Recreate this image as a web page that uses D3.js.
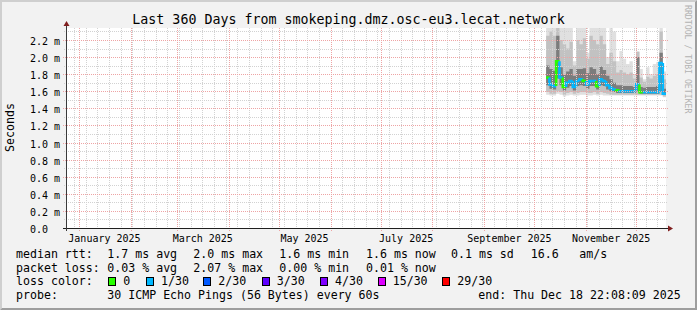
<!DOCTYPE html>
<html><head><meta charset="utf-8">
<script src="https://cdn.jsdelivr.net/npm/d3@7"></script>
<style>
html,body{margin:0;padding:0;background:#f2f2f2;}
svg{display:block;}
text{font-family:"DejaVu Sans Mono",monospace;fill:#000;}
</style>
</head><body>
<svg id="c" width="697" height="310"></svg>
<script>
// ---------------- data ----------------
const title = "Last 360 Days from smokeping.dmz.osc-eu3.lecat.network";
const yAxisTitle = "Seconds";
const watermark = "RRDTOOL / TOBI OETIKER";
const startTime = Date.UTC(2024, 11, 23, 22, 8, 9);
const endTime   = Date.UTC(2025, 11, 18, 22, 8, 9);
const yMaxMs = 2.34;
const yTickValues = [0, 0.2, 0.4, 0.6, 0.8, 1.0, 1.2, 1.4, 1.6, 1.8, 2.0, 2.2];
const yTickLabels = ["0.0", "0.2 m", "0.4 m", "0.6 m", "0.8 m", "1.0 m", "1.2 m", "1.4 m", "1.6 m", "1.8 m", "2.0 m", "2.2 m"];
const monthLabels = ["January 2025", "March 2025", "May 2025", "July 2025", "September 2025", "November 2025"];
const monthLabelStarts = ["2025-01-01", "2025-03-01", "2025-05-01", "2025-07-01", "2025-09-01", "2025-11-01"];

// samples every 2 days starting 2025-10-08 (values in ms)
const sampleStart = "2025-10-08";
const sampleStepDays = 2;
const median  = [1.76,1.68,1.66,1.95,1.76,1.65,1.70,1.72,1.65,1.72,1.74,1.72,1.68,1.72,1.72,1.66,1.74,1.72,1.67,1.64,1.62,1.61,1.60,1.60,1.60,1.60,1.60,1.68,1.59,1.59,1.59,1.59,1.59,1.59,1.93,1.57];
const lossIdx = [0,1,1,0,1,0,1,1,1,1,1,0,1,1,1,0,1,1,1,1,1,0,1,1,1,1,1,1,0,1,1,1,1,1,1,1];
const pingMin = [1.56,1.55,1.55,1.57,1.56,1.54,1.55,1.56,1.55,1.55,1.56,1.56,1.55,1.55,1.56,1.55,1.56,1.55,1.55,1.55,1.55,1.55,1.55,1.55,1.55,1.55,1.55,1.55,1.55,1.55,1.55,1.55,1.55,1.55,1.55,1.53];
const pingP10 = [1.59,1.57,1.57,1.60,1.59,1.56,1.58,1.59,1.57,1.58,1.59,1.59,1.58,1.58,1.59,1.57,1.59,1.58,1.57,1.56,1.56,1.56,1.56,1.56,1.56,1.56,1.56,1.56,1.56,1.56,1.56,1.56,1.56,1.56,1.56,1.54];
const pingP30 = [1.67,1.63,1.62,1.75,1.67,1.61,1.64,1.66,1.61,1.66,1.67,1.66,1.63,1.66,1.66,1.62,1.67,1.66,1.62,1.60,1.59,1.58,1.58,1.58,1.58,1.58,1.58,1.60,1.57,1.57,1.57,1.57,1.57,1.57,1.60,1.555];
const pingP70 = [1.90,1.86,1.84,2.25,1.88,1.80,1.83,1.86,1.78,1.86,1.86,1.87,1.81,1.88,1.86,1.80,1.89,1.85,1.78,1.74,1.70,1.67,1.67,1.66,1.66,1.66,1.65,2.00,1.65,1.64,1.65,1.65,1.65,1.66,2.05,1.63];
const pingP90 = [2.25,2.30,2.25,2.40,2.20,2.15,2.10,2.18,1.90,2.20,2.15,2.22,1.98,2.25,2.20,2.15,2.25,2.15,1.92,2.05,1.95,1.82,1.85,1.82,1.80,1.82,1.75,2.06,1.76,1.71,1.77,1.75,1.78,1.80,2.30,1.74];
const pingMax = [2.40,2.40,2.40,2.40,2.40,2.40,2.40,2.40,1.95,2.40,2.40,2.40,2.05,2.40,2.40,2.40,2.40,2.40,2.00,2.40,2.30,1.95,2.07,1.98,1.92,1.95,1.80,2.07,1.86,1.74,1.88,1.80,1.92,1.94,2.40,1.83];

const lossLabels = ["0", "1/30", "2/30", "3/30", "4/30", "15/30", "29/30"];
const lossColors = ["#26ff00", "#00b8ff", "#0059ff", "#5e00ff", "#7e00ff", "#dd00ff", "#ff0000"];

const rttHeader = "median rtt:";
const rttStats = ["1.7 ms avg", "2.0 ms max", "1.6 ms min", "1.6 ms now", "0.1 ms sd", "16.6", "am/s"];
const lossHeader = "packet loss:";
const lossStats = ["0.03 % avg", "2.07 % max", "0.00 % min", "0.01 % now"];
const colorHeader = "loss color:";
const probeHeader = "probe:";
const probeText = "30 ICMP Echo Pings (56 Bytes) every 60s";
const endText = "end: Thu Dec 18 22:08:09 2025";

// ---------------- layout ----------------
const W = 697, H = 310;
const X0 = 66, X1 = 666, Y0 = 228, Y1 = 28;
const svg = d3.select("#c");

const x = d3.scaleUtc().domain([new Date(startTime), new Date(endTime)]).range([X0, X1]);
const y = d3.scaleLinear().domain([0, yMaxMs]).range([Y0, Y1]);
const px = t => Math.floor(x(t)) + 0.5;
const py = v => Math.round(y(v)) + 0.5;

// background + shading border
svg.append("rect").attr("width", W).attr("height", H).attr("fill", "#f2f2f2");
svg.append("path").attr("d", `M0,${H} L0,0 L${W},0 L${W-2},2 L2,2 L2,${H-2} Z`).attr("fill", "#cfcfcf");
svg.append("path").attr("d", `M${W},0 L${W},${H} L0,${H} L2,${H-2} L${W-2},${H-2} L${W-2},2 Z`).attr("fill", "#9e9e9e");

// canvas
svg.append("rect").attr("x", X0).attr("y", Y1).attr("width", X1 - X0).attr("height", Y0 - Y1).attr("fill", "#ffffff");

svg.append("clipPath").attr("id", "plotclip").append("rect")
  .attr("x", X0).attr("y", Y1).attr("width", X1 - X0).attr("height", Y0 - Y1);

// samples
const s0 = d3.utcParse("%Y-%m-%d")(sampleStart);
const samples = median.map((m, i) => ({
  t: d3.utcDay.offset(s0, i * sampleStepDays),
  med: m, loss: lossIdx[i],
  mn: pingMin[i], p10: pingP10[i], p30: pingP30[i], p70: pingP70[i], p90: pingP90[i], mx: pingMax[i]
}));
const stepPts = samples.concat([Object.assign({}, samples[samples.length - 1], {t: new Date(endTime)})]);

const gData = svg.append("g").attr("clip-path", "url(#plotclip)");
const bands = [
  {lo: "mn", hi: "mx", c: "#e0e0e0"},
  {lo: "p10", hi: "p90", c: "#c2c2c2"},
  {lo: "p30", hi: "p70", c: "#7c7c7c"}
];
bands.forEach(b => {
  const area = d3.area().x(d => x(d.t)).y0(d => y(d[b.lo])).y1(d => y(d[b.hi])).curve(d3.curveStepAfter);
  gData.append("path").attr("d", area(stepPts)).attr("fill", b.c);
});

// median line coloured by loss
const line = d3.line();
samples.forEach((s, i) => {
  const xa = x(s.t), xb = x(stepPts[i + 1].t);
  const pts = [];
  if (i > 0) pts.push([xa, y(samples[i - 1].med)]);
  pts.push([xa, y(s.med)], [xb, y(s.med)]);
  gData.append("path").attr("d", line(pts)).attr("fill", "none")
    .attr("stroke", lossColors[s.loss]).attr("stroke-width", 2.6);
});

// grid (on top)
const minorCol = "#d2d2d2", majorCol = "#eea4a4";
const gGrid = svg.append("g").attr("stroke-dasharray", "1,1").attr("stroke-width", 1).attr("fill", "none");
for (let k = 1; k <= 23; k++) {
  if (k % 2 === 0) continue;
  const yy = py(k / 10);
  gGrid.append("line").attr("x1", X0 - 2).attr("x2", X1 + 2).attr("y1", yy).attr("y2", yy).attr("stroke", minorCol);
}
d3.utcSunday.range(new Date(startTime), new Date(endTime)).forEach(t => {
  const xx = px(t);
  gGrid.append("line").attr("x1", xx).attr("x2", xx).attr("y1", Y1).attr("y2", Y0 + 2).attr("stroke", minorCol);
});
yTickValues.forEach(v => {
  if (v === 0) return;
  const yy = py(v);
  gGrid.append("line").attr("x1", X0 - 3).attr("x2", X1 + 2).attr("y1", yy).attr("y2", yy).attr("stroke", majorCol);
});
d3.utcMonth.range(new Date(startTime), new Date(endTime)).forEach(t => {
  const xx = px(t);
  gGrid.append("line").attr("x1", xx).attr("x2", xx).attr("y1", Y1).attr("y2", Y0 + 3).attr("stroke", majorCol);
});

// axes
svg.append("line").attr("x1", X0 - 3).attr("x2", X1 + 4).attr("y1", Y0 + 0.5).attr("y2", Y0 + 0.5)
  .attr("stroke", "#1f1f1f").attr("stroke-width", 1);
svg.append("line").attr("x1", X0 + 0.5).attr("x2", X0 + 0.5).attr("y1", Y0 + 3).attr("y2", Y1 - 4)
  .attr("stroke", "#3a3a3a").attr("stroke-width", 1);
svg.append("path").attr("d", `M${X1 + 2},${Y0 - 2.5} L${X1 + 7},${Y0 + 0.5} L${X1 + 2},${Y0 + 3.5} Z`).attr("fill", "#801f1f");
svg.append("path").attr("d", `M${X0 - 2.5},${Y1 - 2} L${X0 + 0.5},${Y1 - 7} L${X0 + 3.5},${Y1 - 2} Z`).attr("fill", "#801f1f");

// y tick labels
yTickValues.forEach((v, i) => {
  svg.append("text").attr("x", 30).attr("y", py(v) + 4.3).attr("font-size", "10px").text(yTickLabels[i]);
});
// x labels
const parseD = d3.utcParse("%Y-%m-%d");
monthLabels.forEach((lab, i) => {
  const t = d3.utcDay.offset(parseD(monthLabelStarts[i]), 15);
  svg.append("text").attr("x", x(t)).attr("y", 241.5).attr("text-anchor", "middle").attr("font-size", "10px").text(lab);
});

// title
svg.append("text").attr("x", 348.5).attr("y", 24).attr("text-anchor", "middle").attr("font-size", "13.3px").text(title);
// y axis title
svg.append("text").attr("transform", "translate(13.5,127.5) rotate(-90)").attr("text-anchor", "middle")
  .attr("font-size", "11.6px").text(yAxisTitle);
// watermark
svg.append("text").attr("transform", "translate(684.5,5) rotate(90)").attr("font-size", "8.2px")
  .style("fill", "#b3b3b3").text(watermark);

// legend
const LF = "11.6px";
const lx = [16, 107.3, 193.3, 279.3, 366, 451, 530.7, 579.3];
const ly = [258, 271.7, 285.3, 299];
const leg = svg.append("g").attr("font-size", LF);
leg.append("text").attr("x", lx[0]).attr("y", ly[0]).text(rttHeader);
rttStats.forEach((s, i) => leg.append("text").attr("x", lx[i + 1]).attr("y", ly[0]).text(s));
leg.append("text").attr("x", lx[0]).attr("y", ly[1]).text(lossHeader);
lossStats.forEach((s, i) => leg.append("text").attr("x", lx[i + 1]).attr("y", ly[1]).text(s));
leg.append("text").attr("x", lx[0]).attr("y", ly[2]).text(colorHeader);
const boxX = [108.3, 146, 203.3, 261.7, 320, 377.7, 442.3];
lossLabels.forEach((lab, i) => {
  leg.append("rect").attr("x", Math.round(boxX[i]) + 0.5).attr("y", 277.5).attr("width", 7).attr("height", 8)
    .attr("fill", lossColors[i]).attr("stroke", "#000").attr("stroke-width", 1);
  leg.append("text").attr("x", boxX[i] + 15).attr("y", ly[2]).text(lab);
});
leg.append("text").attr("x", lx[0]).attr("y", ly[3]).text(probeHeader);
leg.append("text").attr("x", lx[1]).attr("y", ly[3]).text(probeText);
leg.append("text").attr("x", 478.3).attr("y", ly[3]).text(endText);
</script>
</body></html>
